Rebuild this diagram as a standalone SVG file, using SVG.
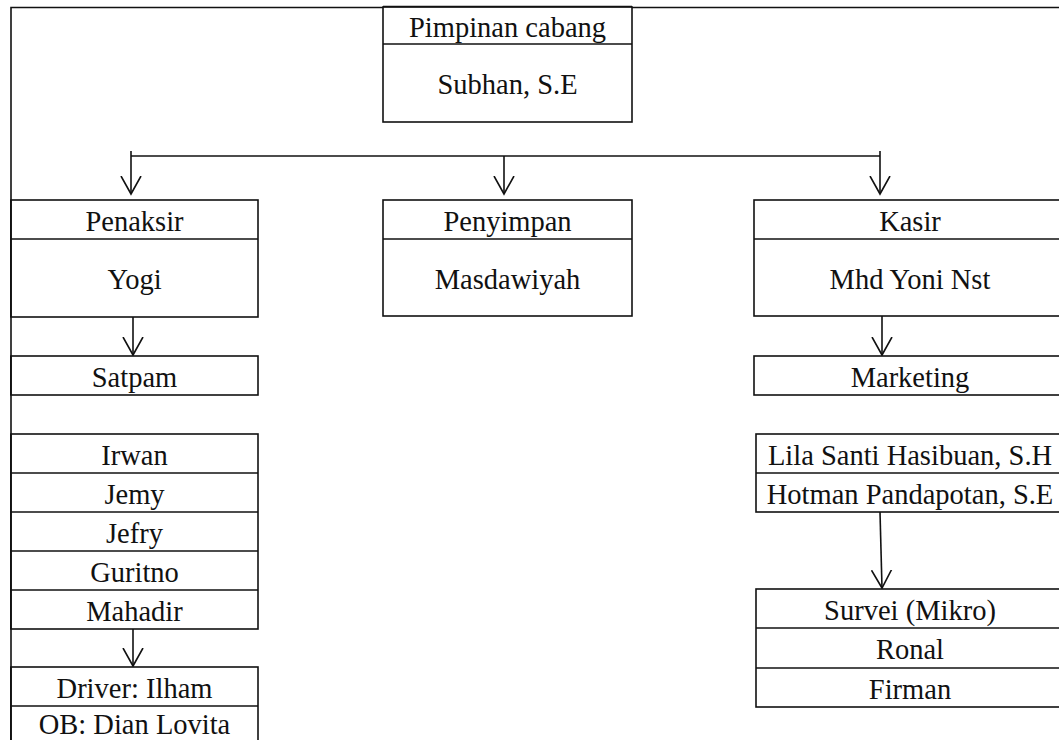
<svg xmlns="http://www.w3.org/2000/svg" width="1059" height="740" viewBox="0 0 1059 740">
<style>
.box{fill:#fff;stroke:#111;stroke-width:1.6}
.div{stroke:#111;stroke-width:1.6}
.ln{fill:none;stroke:#111;stroke-width:1.6}
.t{font-family:"Liberation Serif","Times New Roman",serif;font-size:28.5px;fill:#111;text-anchor:middle}
</style>
<defs>
<marker id="ah" markerUnits="userSpaceOnUse" viewBox="0 0 20 22" refX="18" refY="11" markerWidth="20" markerHeight="22" orient="auto">
<path d="M0,1 L18,11 L0,21" fill="none" stroke="#111" stroke-width="1.6"/>
</marker>
</defs>
<rect width="1059" height="740" fill="#fff"/>
<g id="connectors">
<path class="ln" d="M11,740 V7.5 H1059"/>
<path class="ln" d="M131,156 H880"/>
<path class="ln" d="M131,151 V194" marker-end="url(#ah)"/>
<path class="ln" d="M504,156 V194" marker-end="url(#ah)"/>
<path class="ln" d="M880,151 V194" marker-end="url(#ah)"/>
<path class="ln" d="M133,317 V355" marker-end="url(#ah)"/>
<path class="ln" d="M133,629 V666" marker-end="url(#ah)"/>
<path class="ln" d="M882,316 V355" marker-end="url(#ah)"/>
<path class="ln" d="M880,512 L882,588" marker-end="url(#ah)"/>
</g>
<g id="pimpinan">
<rect class="box" x="383" y="7" width="249" height="115"/>
<line class="ln" x1="383" y1="6.5" x2="632" y2="6.5" stroke-width="2.5"/>
<line class="div" x1="383" y1="44" x2="632" y2="44"/>
<text class="t" x="507.5" y="37">Pimpinan cabang</text>
<text class="t" x="507.5" y="94">Subhan, S.E</text>
</g>
<g id="penaksir">
<rect class="box" x="11" y="200" width="247" height="117"/>
<line class="div" x1="11" y1="239" x2="258" y2="239"/>
<text class="t" x="134.5" y="231">Penaksir</text>
<text class="t" x="134.5" y="289">Yogi</text>
</g>
<g id="penyimpan">
<rect class="box" x="383" y="200" width="249" height="116"/>
<line class="div" x1="383" y1="239" x2="632" y2="239"/>
<text class="t" x="507.5" y="231">Penyimpan</text>
<text class="t" x="507.5" y="289">Masdawiyah</text>
</g>
<g id="kasir">
<rect class="box" x="754" y="200" width="320" height="116"/>
<line class="div" x1="754" y1="239" x2="1074" y2="239"/>
<text class="t" x="910" y="231">Kasir</text>
<text class="t" x="910" y="289">Mhd Yoni Nst</text>
</g>
<g id="satpam">
<rect class="box" x="11" y="356" width="247" height="39"/>
<text class="t" x="134.5" y="387">Satpam</text>
</g>
<g id="satpam-list">
<rect class="box" x="11" y="434" width="247" height="195"/>
<line class="div" x1="11" y1="473" x2="258" y2="473"/>
<line class="div" x1="11" y1="512" x2="258" y2="512"/>
<line class="div" x1="11" y1="551" x2="258" y2="551"/>
<line class="div" x1="11" y1="590" x2="258" y2="590"/>
<text class="t" x="134.5" y="465">Irwan</text>
<text class="t" x="134.5" y="504">Jemy</text>
<text class="t" x="134.5" y="543">Jefry</text>
<text class="t" x="134.5" y="582">Guritno</text>
<text class="t" x="134.5" y="621">Mahadir</text>
</g>
<g id="driver-ob">
<rect class="box" x="11" y="667" width="247" height="80"/>
<line class="div" x1="11" y1="706" x2="258" y2="706"/>
<text class="t" x="134.5" y="698">Driver: Ilham</text>
<text class="t" x="134.5" y="734">OB: Dian Lovita</text>
</g>
<path class="ln" d="M11,200 V317 M11,356 V395 M11,434 V629 M11,667 V740" stroke-width="3.5"/>
<g id="marketing">
<rect class="box" x="754" y="356" width="320" height="39"/>
<text class="t" x="910" y="387">Marketing</text>
</g>
<g id="marketing-list">
<rect class="box" x="756" y="434" width="318" height="78"/>
<line class="div" x1="756" y1="473" x2="1074" y2="473"/>
<text class="t" x="910" y="465">Lila Santi Hasibuan, S.H</text>
<text class="t" x="910" y="504">Hotman Pandapotan, S.E</text>
</g>
<g id="survei">
<rect class="box" x="756" y="589" width="318" height="118"/>
<line class="div" x1="756" y1="628" x2="1074" y2="628"/>
<line class="div" x1="756" y1="668" x2="1074" y2="668"/>
<text class="t" x="910" y="620">Survei (Mikro)</text>
<text class="t" x="910" y="659">Ronal</text>
<text class="t" x="910" y="699">Firman</text>
</g>
</svg>
